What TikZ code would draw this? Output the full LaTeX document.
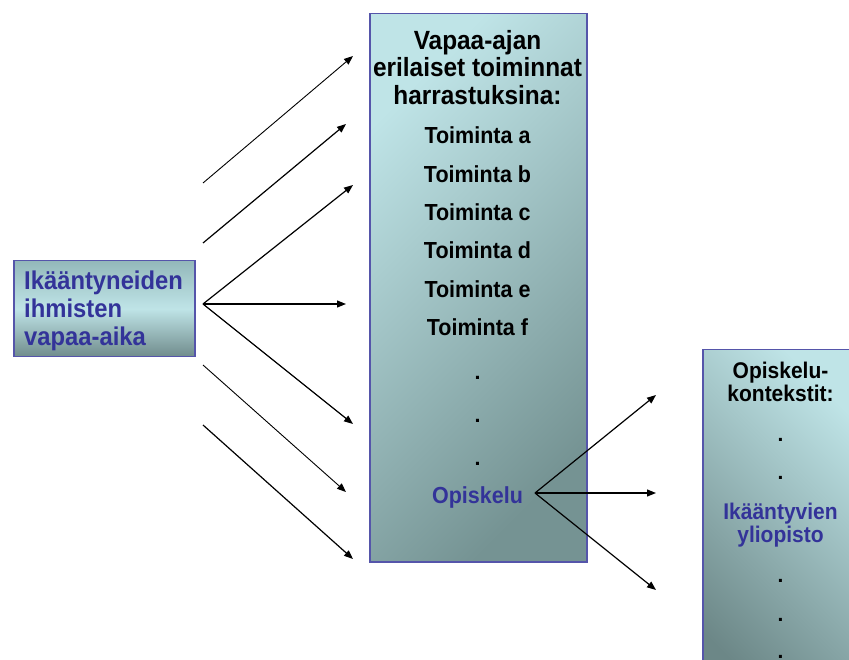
\documentclass[tikz,border=0pt]{standalone}
\usepackage{fontspec}
\setmainfont{Liberation Sans}
\usetikzlibrary{arrows.meta}

\definecolor{navy}{HTML}{333399}
\definecolor{boxline}{HTML}{5555AA}
\definecolor{tealhi}{HTML}{BFE4E7}
\definecolor{tealmid}{HTML}{93B8BA}
\definecolor{tealdark}{HTML}{6C8787}
\definecolor{tealdeep}{HTML}{759393}

% slightly taller lettering
\newcommand{\tall}[1]{\scalebox{1}[1.08]{#1}}

\tikzset{
  panel/.style={draw=boxline, line width=1.5pt, inner sep=0pt, anchor=north west},
  flow/.style={-{Triangle[length=9pt,width=7pt]}, line width=1.2pt, black},
  thinflow/.style={flow, line width=0.9pt},
  headtxt/.style={anchor=base, inner sep=0pt, font=\fontsize{24.4}{28}\selectfont\bfseries},
  itemtxt/.style={anchor=base, inner sep=0pt, font=\fontsize{21.5}{24}\selectfont\bfseries},
  ctxtxt/.style={anchor=base, inner sep=0pt, font=\fontsize{21}{25}\selectfont\bfseries},
  lefttxt/.style={anchor=base west, inner sep=0pt, text=navy, font=\fontsize{23.8}{28}\selectfont\bfseries}
}

\begin{document}
\begin{tikzpicture}[x=1pt,y=-1pt]
\useasboundingbox (0,0) rectangle (849,660);
\clip (0,0) rectangle (849,660);

% left box: leisure of the elderly
\node[panel, minimum width=181pt, minimum height=96pt,
      top color=tealmid, bottom color=tealdark!90!tealmid, middle color=tealhi]
      (leisure) at (13,260) {};
\node[lefttxt] (l1) at (24,289.5) {\tall{Ikääntyneiden}};
\node[lefttxt] (l2) at (24,318) {\tall{ihmisten}};
\node[lefttxt] (l3) at (24,346) {\tall{vapaa-aika}};

% middle box: activities
\node[panel, minimum width=217pt, minimum height=548pt,
      top color=tealhi, bottom color=tealdeep, shading angle=45]
      (acts) at (369,13) {};
\node[headtxt] (h1) at (477.5,50) {\tall{Vapaa-ajan}};
\node[headtxt] (h2) at (477.5,77) {\tall{erilaiset toiminnat}};
\node[headtxt] (h3) at (477.5,104.5) {\tall{harrastuksina:}};
\node[itemtxt] (ta) at (477.5,144) {\tall{Toiminta a}};
\node[itemtxt] (tb) at (477.5,182.5) {\tall{Toiminta b}};
\node[itemtxt] (tc) at (477.5,221) {\tall{Toiminta c}};
\node[itemtxt] (td) at (477.5,259) {\tall{Toiminta d}};
\node[itemtxt] (te) at (477.5,297.5) {\tall{Toiminta e}};
\node[itemtxt] (tf) at (477.5,336) {\tall{Toiminta f}};
\node[itemtxt] (d1) at (477.5,379) {.};
\node[itemtxt] (d2) at (477.5,422.5) {.};
\node[itemtxt] (d3) at (477.5,465) {.};
\node[itemtxt, text=navy] (study) at (477.5,503) {\tall{Opiskelu}};

% right box: study contexts
\node[panel, minimum width=160pt, minimum height=360pt,
      top color=tealhi, bottom color=tealdark, shading angle=-45]
      (ctx) at (702,349) {};
\node[ctxtxt] (c1) at (780.5,378) {\tall{Opiskelu-}};
\node[ctxtxt] (c2) at (780.5,402) {\tall{kontekstit:}};
\node[ctxtxt] (c3) at (780.5,441) {.};
\node[ctxtxt] (c4) at (780.5,479) {.};
\node[ctxtxt, text=navy] (c5) at (780.5,519.5) {\tall{Ikääntyvien}};
\node[ctxtxt, text=navy] (c6) at (780.5,542.5) {\tall{yliopisto}};
\node[ctxtxt] (c7) at (780.5,582) {.};
\node[ctxtxt] (c8) at (780.5,621) {.};
\node[ctxtxt] (c9) at (780.5,658) {.};

% connector end points
\coordinate (s1) at (203,183);  \coordinate (e1) at (353,56);
\coordinate (s2) at (203,243);  \coordinate (e2) at (346,124);
\coordinate (hub) at (203,304);
\coordinate (e3) at (353,185);  \coordinate (e4) at (346,304);
\coordinate (e5) at (353,424);
\coordinate (s6) at (203,365);  \coordinate (e6) at (346,492);
\coordinate (s7) at (203,425);  \coordinate (e7) at (353,559);
\coordinate (fork) at (535,493);
\coordinate (r1) at (656,395);  \coordinate (r2) at (656,493);
\coordinate (r3) at (656,590);

\draw[thinflow] (s1) -- (e1);
\draw[flow] (s2) -- (e2);
\draw[flow] (hub) -- (e3);
\draw[flow] (hub) -- (e4);
\draw[flow] (hub) -- (e5);
\draw[thinflow] (s6) -- (e6);
\draw[flow] (s7) -- (e7);
\draw[flow] (fork) -- (r1);
\draw[flow] (fork) -- (r2);
\draw[flow] (fork) -- (r3);
\end{tikzpicture}
\end{document}
